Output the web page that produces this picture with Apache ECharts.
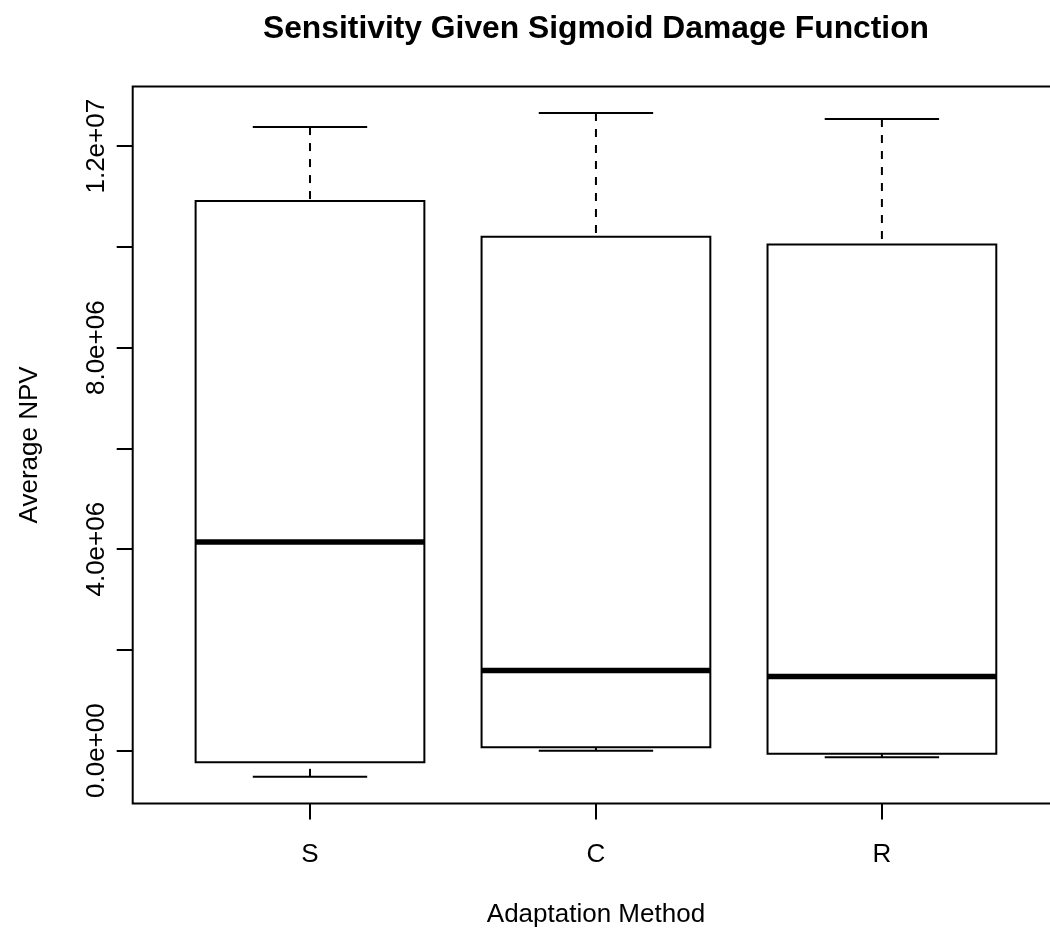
<!DOCTYPE html>
<html>
<head>
<meta charset="utf-8">
<script src="https://cdn.jsdelivr.net/npm/echarts@6/dist/echarts.min.js"></script>
<style>
html,body{margin:0;padding:0;background:#fff;overflow:hidden;}
#chart{width:1062px;height:931px;}
</style>
</head>
<body>
<div id="chart"></div>
<script>
// ---- data ----
const categories = ['S', 'C', 'R'];
const lowerWhisker = [-0.52e6, 0.0e6, -0.13e6];
const lowerHinge   = [-0.23e6, 0.07e6, -0.06e6];
const medians      = [4.14e6, 1.59e6, 1.47e6];
const upperHinge   = [10.91e6, 10.20e6, 10.05e6];
const upperWhisker = [12.38e6, 12.66e6, 12.54e6];
const yTickValues  = [0, 2e6, 4e6, 6e6, 8e6, 10e6, 12e6];
const yLabelValues = [0, 4e6, 8e6, 12e6];
const yLabelTexts  = ['0.0e+00', '4.0e+06', '8.0e+06', '1.2e+07'];

// R-style axis ranges (4% extension)
const xPos = categories.map((c, i) => i + 1);
const xLo = 0.5, xHi = categories.length + 0.5;
const xPad = 0.04 * (xHi - xLo);
const yLo = Math.min(...lowerWhisker), yHi = Math.max(...upperWhisker);
const yPad = 0.04 * (yHi - yLo);

const seriesData = categories.map((c, i) => [xPos[i], lowerWhisker[i], lowerHinge[i], medians[i], upperHinge[i], upperWhisker[i]]);

const FONT = '"Liberation Sans", Arial, Helvetica, sans-serif';
const chart = echarts.init(document.getElementById('chart'), null, {renderer: 'canvas'});

chart.setOption({
  animation: false,
  backgroundColor: '#fff',
  title: {
    text: 'Sensitivity Given Sigmoid Damage Function',
    left: 591, top: 8, textAlign: 'center',
    textStyle: {fontFamily: FONT, fontWeight: 'bold', fontSize: 31.8, color: '#000'}
  },
  grid: {
    left: 132.7, top: 86.4, width: 926.5, height: 717,
    outerBoundsMode: 'none', containLabel: false,
    show: true, borderColor: '#000', borderWidth: 2, backgroundColor: 'transparent'
  },
  xAxis: {
    type: 'value',
    min: xLo - xPad, max: xHi + xPad,
    name: 'Adaptation Method',
    nameLocation: 'middle', nameGap: 98,
    nameTextStyle: {fontFamily: FONT, fontSize: 26, color: '#000'},
    axisLine: {show: false, onZero: false},
    splitLine: {show: false},
    axisTick: {show: true, length: 16, lineStyle: {color: '#000', width: 2}, customValues: xPos},
    axisLabel: {
      show: true, margin: 38, fontFamily: FONT, fontSize: 26, color: '#000',
      customValues: xPos,
      formatter: v => categories[Math.round(v) - 1] || ''
    }
  },
  yAxis: {
    type: 'value',
    min: yLo - yPad, max: yHi + yPad,
    name: 'Average NPV',
    nameLocation: 'middle', nameGap: 90, nameRotate: 90,
    nameTextStyle: {fontFamily: FONT, fontSize: 26, color: '#000'},
    axisLine: {show: false, onZero: false},
    splitLine: {show: false},
    axisTick: {show: true, length: 16, lineStyle: {color: '#000', width: 2}, customValues: yTickValues},
    axisLabel: {
      show: true, rotate: 90, margin: 23, fontFamily: FONT, fontSize: 26, color: '#000',
      customValues: yLabelValues,
      formatter: v => {
        const k = yLabelValues.findIndex(t => Math.abs(t - v) < 1);
        return k >= 0 ? yLabelTexts[k] : '';
      }
    }
  },
  series: [{
    type: 'custom',
    data: seriesData,
    encode: {x: 0, y: [1, 2, 3, 4, 5]},
    clip: false,
    renderItem: function (params, api) {
      const x = api.value(0);
      const lo = api.coord([x, api.value(1)]);
      const b1 = api.coord([x, api.value(2)]);
      const md = api.coord([x, api.value(3)]);
      const b3 = api.coord([x, api.value(4)]);
      const hi = api.coord([x, api.value(5)]);
      const bw = api.size([0.8, 0])[0];
      const cw = bw / 2;
      const cx = lo[0];
      const thin = {stroke: '#000', lineWidth: 2, fill: null};
      return {
        type: 'group',
        children: [
          {type: 'line', shape: {x1: cx, y1: hi[1], x2: cx, y2: b3[1]}, style: Object.assign({}, thin, {lineDash: [8, 8]})},
          {type: 'line', shape: {x1: cx, y1: lo[1], x2: cx, y2: b1[1]}, style: Object.assign({}, thin, {lineDash: [8, 8]})},
          {type: 'line', shape: {x1: cx - cw / 2, y1: hi[1], x2: cx + cw / 2, y2: hi[1]}, style: thin},
          {type: 'line', shape: {x1: cx - cw / 2, y1: lo[1], x2: cx + cw / 2, y2: lo[1]}, style: thin},
          {type: 'rect', shape: {x: cx - bw / 2, y: b3[1], width: bw, height: b1[1] - b3[1]}, style: {stroke: '#000', lineWidth: 2, fill: '#fff'}},
          {type: 'line', shape: {x1: cx - bw / 2, y1: md[1], x2: cx + bw / 2, y2: md[1]}, style: {stroke: '#000', lineWidth: 5.5}}
        ]
      };
    }
  }]
});
</script>
</body>
</html>
